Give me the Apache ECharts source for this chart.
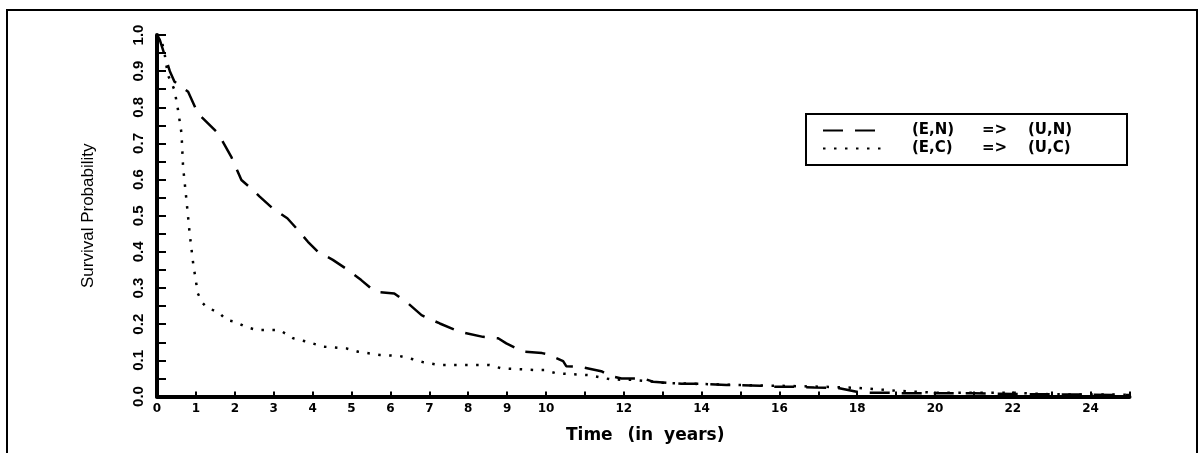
<!DOCTYPE html>
<html lang="en">
<head>
  <meta charset="UTF-8">
  <title>Survival Probability</title>
  <script src="https://cdn.jsdelivr.net/npm/echarts@6/dist/echarts.min.js"></script>
  <style>
    body {
      margin: 0;
      padding: 0;
      background-color: #fff;
    }
    #main {
      position: absolute;
      left: 0;
      top: 0;
      width: 1201px;
      height: 453px;
    }
    /* outer frame */
    #frame {
      position: absolute;
      left: 6px;
      top: 9px;
      width: 1188px;
      height: 460px;
      border: 2px solid #000;
      pointer-events: none;
    }
  </style>
</head>
<body>
  <div id="main"></div>
  <div id="frame"></div>

  <script>
    // (E,N) => (U,N), dashed curve
    var timeN = [0, 0.07, 0.33, 0.45, 0.8, 1.05, 1.57, 1.91, 2.17, 2.51, 2.64, 3.0, 3.35, 3.62, 3.88, 4.14, 4.52, 4.91, 5.25, 5.6, 6.1, 6.45, 6.8, 7.27, 7.78, 8.38, 8.77, 8.98, 9.41, 9.9, 10.05, 10.44, 10.52, 10.9, 11.42, 11.64, 11.94, 12.49, 12.75, 13.48, 14.03, 14.64, 15.5, 15.8, 16.3, 16.9, 17.5, 18.1, 18.7, 19.2, 21.0, 22.0, 25.0];
    var survN = [1.0, 0.987, 0.90, 0.871, 0.843, 0.783, 0.728, 0.663, 0.599, 0.567, 0.553, 0.518, 0.493, 0.461, 0.428, 0.40, 0.378, 0.35, 0.322, 0.29, 0.285, 0.258, 0.225, 0.202, 0.179, 0.165, 0.161, 0.147, 0.124, 0.12, 0.117, 0.098, 0.084, 0.082, 0.07, 0.057, 0.05, 0.05, 0.041, 0.035, 0.035, 0.032, 0.03, 0.027, 0.027, 0.025, 0.024, 0.0105, 0.0105, 0.009, 0.009, 0.007, 0.004];

    // (E,C) => (U,C), dotted curve
    var timeC = [0, 0.11, 0.2, 0.28, 0.45, 0.54, 0.63, 0.67, 0.76, 0.84, 0.93, 0.97, 1.05, 1.18, 1.27, 1.61, 1.78, 2.0, 2.3, 2.56, 3.15, 3.5, 3.84, 4.27, 4.87, 5.17, 5.73, 6.24, 6.58, 6.84, 7.27, 8.55, 8.85, 9.41, 9.75, 9.97, 10.27, 11.12, 11.68, 12.24, 13.1, 14.98, 17.1, 18.0, 19.0, 20.0, 22.0, 23.0, 25.0];
    var survC = [1.0, 0.99, 0.945, 0.889, 0.848, 0.793, 0.728, 0.636, 0.54, 0.451, 0.368, 0.34, 0.285, 0.258, 0.248, 0.23, 0.212, 0.207, 0.192, 0.184, 0.184, 0.161, 0.152, 0.138, 0.133, 0.124, 0.115, 0.112, 0.103, 0.095, 0.087, 0.087, 0.078, 0.075, 0.073, 0.073, 0.064, 0.059, 0.047, 0.046, 0.037, 0.032, 0.027, 0.024, 0.016, 0.0105, 0.0105, 0.006, 0.005];

    var seriesNames = ['(E,N) => (U,N)', '(E,C) => (U,C)'];
    var xLabeled = [0, 1, 2, 3, 4, 5, 6, 7, 8, 9, 10, 12, 14, 16, 18, 20, 22, 24];

    function pairs(xs, ys) {
      return xs.map(function (x, i) { return [x, ys[i]]; });
    }

    var narrow = '"Liberation Sans", Arial, sans-serif';
    var wide = '"DejaVu Sans", sans-serif';
    var legendFont = { fontFamily: wide, fontWeight: 'bold', fontSize: 15, lineHeight: 14, color: '#000' };
    var nameFont = { fontFamily: wide, fontWeight: 'bold', fontSize: 17, color: '#000' };

    var chart = echarts.init(document.getElementById('main'));

    var option = {
      animation: false,
      backgroundColor: '#fff',
      grid: {
        left: 157,
        top: 35,
        width: 972.5,
        height: 361.5,
        containLabel: false
      },
      legend: {
        orient: 'vertical',
        left: 806,
        top: 114,
        padding: [9, 30, 9, 16],
        itemWidth: 64,
        itemHeight: 10,
        itemGap: 3,
        borderColor: '#000',
        borderWidth: 2,
        selectedMode: false,
        itemStyle: { opacity: 0 },
        data: seriesNames,
        formatter: function (name) {
          var p = name.split(' ');
          return '{g| }{a|' + p[0] + ' }{b|' + p[1] + ' }{c|' + p[2] + '}';
        },
        textStyle: {
          color: '#000',
          fontFamily: wide,
          fontWeight: 'bold',
          fontSize: 15,
          lineHeight: 14,
          rich: {
            g: { width: 20, lineHeight: 14 },
            a: Object.assign({ width: 70 }, legendFont),
            b: Object.assign({ width: 46 }, legendFont),
            c: Object.assign({ width: 69 }, legendFont)
          }
        }
      },
      xAxis: {
        type: 'value',
        min: 0,
        max: 25,
        interval: 1,
        name: '{t|Time }{u|(in }{v|years)}',
        nameLocation: 'middle',
        nameGap: 31,
        nameTextStyle: Object.assign({
          rich: {
            t: Object.assign({ width: 62 }, nameFont),
            u: Object.assign({ width: 40 }, nameFont),
            v: Object.assign({ width: 62 }, nameFont)
          }
        }, nameFont),
        splitLine: { show: false },
        axisLine: { show: true, lineStyle: { color: '#000', width: 4 } },
        axisTick: { show: true, inside: true, length: 5, lineStyle: { color: '#000', width: 2 } },
        axisLabel: {
          color: '#000',
          fontFamily: wide,
          fontWeight: 'bold',
          fontSize: 12,
          margin: 6,
          formatter: function (v) {
            return xLabeled.indexOf(v) >= 0 ? String(v) : '';
          }
        }
      },
      yAxis: {
        type: 'value',
        min: 0,
        max: 1,
        interval: 0.05,
        name: 'Survival Probability',
        nameLocation: 'middle',
        nameGap: 60,
        nameTextStyle: {
          color: '#000',
          fontFamily: narrow,
          fontSize: 17
        },
        splitLine: { show: false },
        axisLine: { show: true, lineStyle: { color: '#000', width: 4 } },
        axisTick: { show: true, inside: true, length: 9, lineStyle: { color: '#000', width: 2 } },
        axisLabel: {
          color: '#000',
          fontFamily: narrow,
          fontWeight: 'bold',
          fontSize: 15,
          rotate: 90,
          margin: 11,
          formatter: function (v) {
            var k = Math.round(v * 100);
            return k % 10 === 0 ? (k / 100).toFixed(1) : '';
          }
        }
      },
      series: [
        {
          name: seriesNames[0],
          type: 'line',
          symbol: 'none',
          data: pairs(timeN, survN),
          lineStyle: { color: '#000', width: 2.5, type: [20, 12], cap: 'butt' },
          itemStyle: { color: '#000' }
        },
        {
          name: seriesNames[1],
          type: 'line',
          symbol: 'none',
          data: pairs(timeC, survC),
          lineStyle: { color: '#000', width: 2.5, type: [2.5, 8.5], cap: 'butt' },
          itemStyle: { color: '#000' }
        }
      ]
    };

    chart.setOption(option);
  </script>
</body>
</html>
